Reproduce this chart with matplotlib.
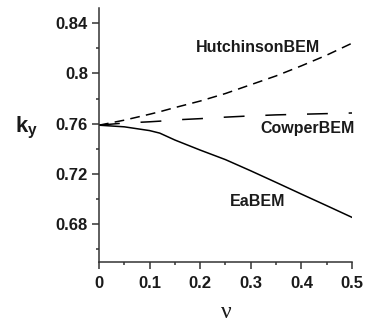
import matplotlib
matplotlib.use("Agg")
import matplotlib.pyplot as plt
from matplotlib.ticker import MultipleLocator, FixedLocator

# Values
nu = [0.0, 0.05, 0.1, 0.12, 0.15, 0.2, 0.25, 0.3, 0.35, 0.4, 0.45, 0.5]
ky_hutchinson = [0.7588, 0.7628, 0.7675, 0.7695, 0.7728, 0.778, 0.784, 0.791, 0.798, 0.806, 0.8145, 0.824]
ky_cowper = [0.7588, 0.7605, 0.7615, 0.762, 0.763, 0.764, 0.7652, 0.7662, 0.767, 0.7675, 0.768, 0.7685]
ky_ea = [0.7588, 0.7575, 0.7545, 0.7525, 0.747, 0.739, 0.7314, 0.7225, 0.7133, 0.704, 0.6948, 0.6855]

y_major = [0.68, 0.72, 0.76, 0.80, 0.84]
y_labels = ["0.68", "0.72", "0.76", "0.8", "0.84"]
y_minor = [0.66, 0.70, 0.74, 0.78, 0.82]
x_major = [0.0, 0.1, 0.2, 0.3, 0.4, 0.5]
x_labels = ["0", "0.1", "0.2", "0.3", "0.4", "0.5"]

plt.rcParams["font.family"] = ["Liberation Sans", "DejaVu Sans"]
plt.rcParams["mathtext.fontset"] = "custom"
plt.rcParams["mathtext.bf"] = "Liberation Sans:bold"
plt.rcParams["lines.scale_dashes"] = False

TXT = "#1a1a1a"

fig = plt.figure(figsize=(3.66, 3.24), dpi=100)
ax = fig.add_axes([0.2705, 0.1914, 0.6912, 0.7839])

lw = 1.1
ax.plot(nu, ky_hutchinson, color="black", lw=lw, dashes=(7, 4.5))
ax.plot(nu, ky_cowper, color="black", lw=lw, dashes=(15, 15))
ax.plot(nu, ky_ea, color="black", lw=lw)

ax.set_xlim(0, 0.5)
ax.set_ylim(0.65, 0.852)

for s in ["top", "right"]:
    ax.spines[s].set_visible(False)
for s in ["left", "bottom"]:
    ax.spines[s].set_linewidth(1.1)
    ax.spines[s].set_color("#333333")

ax.yaxis.set_major_locator(FixedLocator(y_major))
ax.set_yticklabels(y_labels)
ax.yaxis.set_minor_locator(FixedLocator(y_minor))
ax.xaxis.set_major_locator(FixedLocator(x_major))
ax.set_xticklabels(x_labels)
ax.xaxis.set_minor_locator(MultipleLocator(0.05))

ax.tick_params(which="major", length=5, width=1.1, color="#333333",
               labelsize=12, labelcolor=TXT)
ax.tick_params(which="minor", length=2.5, width=1.1, color="#333333")
ax.tick_params(axis="y", which="major", pad=3)
ax.tick_params(axis="x", which="major", pad=5)
for lab in ax.get_xticklabels() + ax.get_yticklabels():
    lab.set_fontweight("bold")

ax.text(0.314, 0.8207, "HutchinsonBEM", fontsize=11.5, fontweight="bold",
        color=TXT, ha="center", va="center")
ax.text(0.413, 0.7563, "CowperBEM", fontsize=11.5, fontweight="bold",
        color=TXT, ha="center", va="center")
ax.text(0.314, 0.698, "EaBEM", fontsize=11.5, fontweight="bold",
        color=TXT, ha="center", va="center")

fig.text(27 / 366, 1 - 128 / 324, r"$\mathbf{k}_\mathbf{y}$", fontsize=16,
         color=TXT, ha="center", va="center")
fig.text(226 / 366, 1 - 312 / 324, "\u03bd", fontsize=17, color=TXT,
         family=["Liberation Serif", "DejaVu Serif"], ha="center", va="center")

fig.savefig("out.png", dpi=100)
